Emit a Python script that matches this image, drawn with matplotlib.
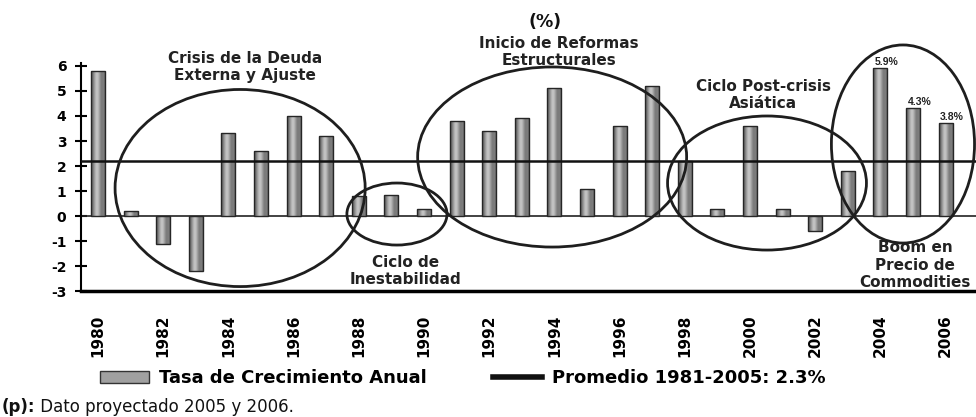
import matplotlib
matplotlib.use("Agg")
import matplotlib.pyplot as plt
from matplotlib.patches import Ellipse, Patch
from matplotlib.lines import Line2D
import numpy as np

plt.rcParams['font.family'] = ['DejaVu Sans']

# Data (annual growth rate, %)
years = list(range(1980, 2007))
growth = [5.8, 0.2, -1.1, -2.2, 3.3, 2.6, 4.0, 3.2, 0.8, 0.85,
          0.3, 3.8, 3.4, 3.9, 5.1, 1.1, 3.6, 5.2, 2.2, 0.3,
          3.6, 0.3, -0.6, 1.8, 5.9, 4.3, 3.7]
avg_growth = 2.2
label_years = [2004, 2005, 2006]
label_texts = ['5.9%', '4.3%', '3.8%']
year_ticks = list(range(1980, 2007, 2))
y_ticks = list(range(-3, 7))

fig = plt.figure(figsize=(9.76, 4.17), dpi=100)
ax = fig.add_axes([0.083, 0.302, 0.917, 0.547])

# bars with a metallic grey gradient
bars = ax.bar(years, growth, width=0.43, facecolor='none',
              edgecolor='#262626', linewidth=1.0, zorder=3)
grad = np.array([[0.38, 0.5, 0.68, 0.8, 0.72, 0.56, 0.45, 0.52, 0.4]])
for b in bars:
    x0, y0 = b.get_x(), b.get_y()
    im = ax.imshow(grad, cmap='gray', vmin=0, vmax=1, aspect='auto',
                   extent=(x0, x0 + b.get_width(), y0, y0 + b.get_height()),
                   interpolation='bicubic', zorder=2.5)
    im.set_clip_path(b)

ax.axhline(0, color='#222222', lw=1.2, zorder=2)
ax.axhline(avg_growth, color='#111111', lw=1.8, zorder=4)

ax.set_xlim(1979.48, 2006.93)
ax.set_ylim(-3, 6.12)

# axes styling
for s in ['top', 'right']:
    ax.spines[s].set_visible(False)
ax.spines['left'].set_linewidth(1.5)
ax.spines['bottom'].set_linewidth(2.5)
ax.set_yticks(y_ticks)
ax.set_yticklabels([str(v) for v in y_ticks], fontsize=10, fontweight='bold')
ax.tick_params(axis='y', direction='inout', length=9, width=1.5, pad=6)
ax.set_xticks(year_ticks)
ax.set_xticklabels([str(y) for y in year_ticks], rotation=90,
                   family='Liberation Sans Narrow', fontweight='bold', fontsize=11)
ax.tick_params(axis='x', length=0, pad=17)

# value labels on the last bars
for yr, txt in zip(label_years, label_texts):
    ax.text(yr + 0.2, growth[years.index(yr)] + 0.05, txt, ha='center', va='bottom',
            family='Liberation Sans', fontweight='bold', fontsize=7.5, color='#222222')

# period ellipses (centre, width, height in data units)
ellipses = [
    ((1984.36, 1.12), 7.67, 7.88),
    ((1989.17, 0.08), 3.07, 2.48),
    ((1993.93, 2.36), 8.25, 7.2),
    ((2000.52, 1.32), 6.10, 5.36),
    ((2004.69, 2.88), 4.39, 7.92),
]
for c, w, h in ellipses:
    ax.add_patch(Ellipse(c, w, h, fill=False, edgecolor='#1e1e1e', lw=2,
                         zorder=5, clip_on=False))

note_kw = dict(ha='center', va='center', fontweight='bold', fontsize=11,
               color='#222222', linespacing=1.2, clip_on=False)
ax.text(1984.51, 5.96, 'Crisis de la Deuda\nExterna y Ajuste', **note_kw)
ax.text(1989.42, -2.2, 'Ciclo de\nInestabilidad', **note_kw)
ax.text(1994.14, 6.56, 'Inicio de Reformas\nEstructurales', **note_kw)
ax.text(2000.4, 4.84, 'Ciclo Post-crisis\nAsiática', **note_kw)
ax.text(2005.06, -1.96, 'Boom en\nPrecio de\nCommodities', **note_kw)
ax.text(1993.71, 7.76, '(%)', ha='center', va='center', fontweight='bold',
        fontsize=12.5, color='#111111', clip_on=False)

# legend
handles = [Patch(facecolor='#a0a0a0', edgecolor='#333333', lw=1),
           Line2D([0], [0], color='#111111', lw=4)]
fig.legend(handles, ['Tasa de Crecimiento Anual', 'Promedio 1981-2005: 2.3%'],
           loc='center', bbox_to_anchor=(0.474, 0.093), ncol=2, frameon=False,
           prop=dict(family='DejaVu Sans', weight='bold', size=13),
           handlelength=2.7, handleheight=0.6, handletextpad=0.55,
           columnspacing=3.7)

# footnote: bold "(p):" followed by regular text
t1 = fig.text(0.002, 0.012, '(p):', fontweight='bold', fontsize=12,
              va='baseline', color='#111111')
ax.annotate(' Dato proyectado 2005 y 2006.', xy=(1, 0), xycoords=t1,
            va='bottom', ha='left', fontsize=12, color='#111111',
            annotation_clip=False)

fig.savefig('out.png', dpi=100)
